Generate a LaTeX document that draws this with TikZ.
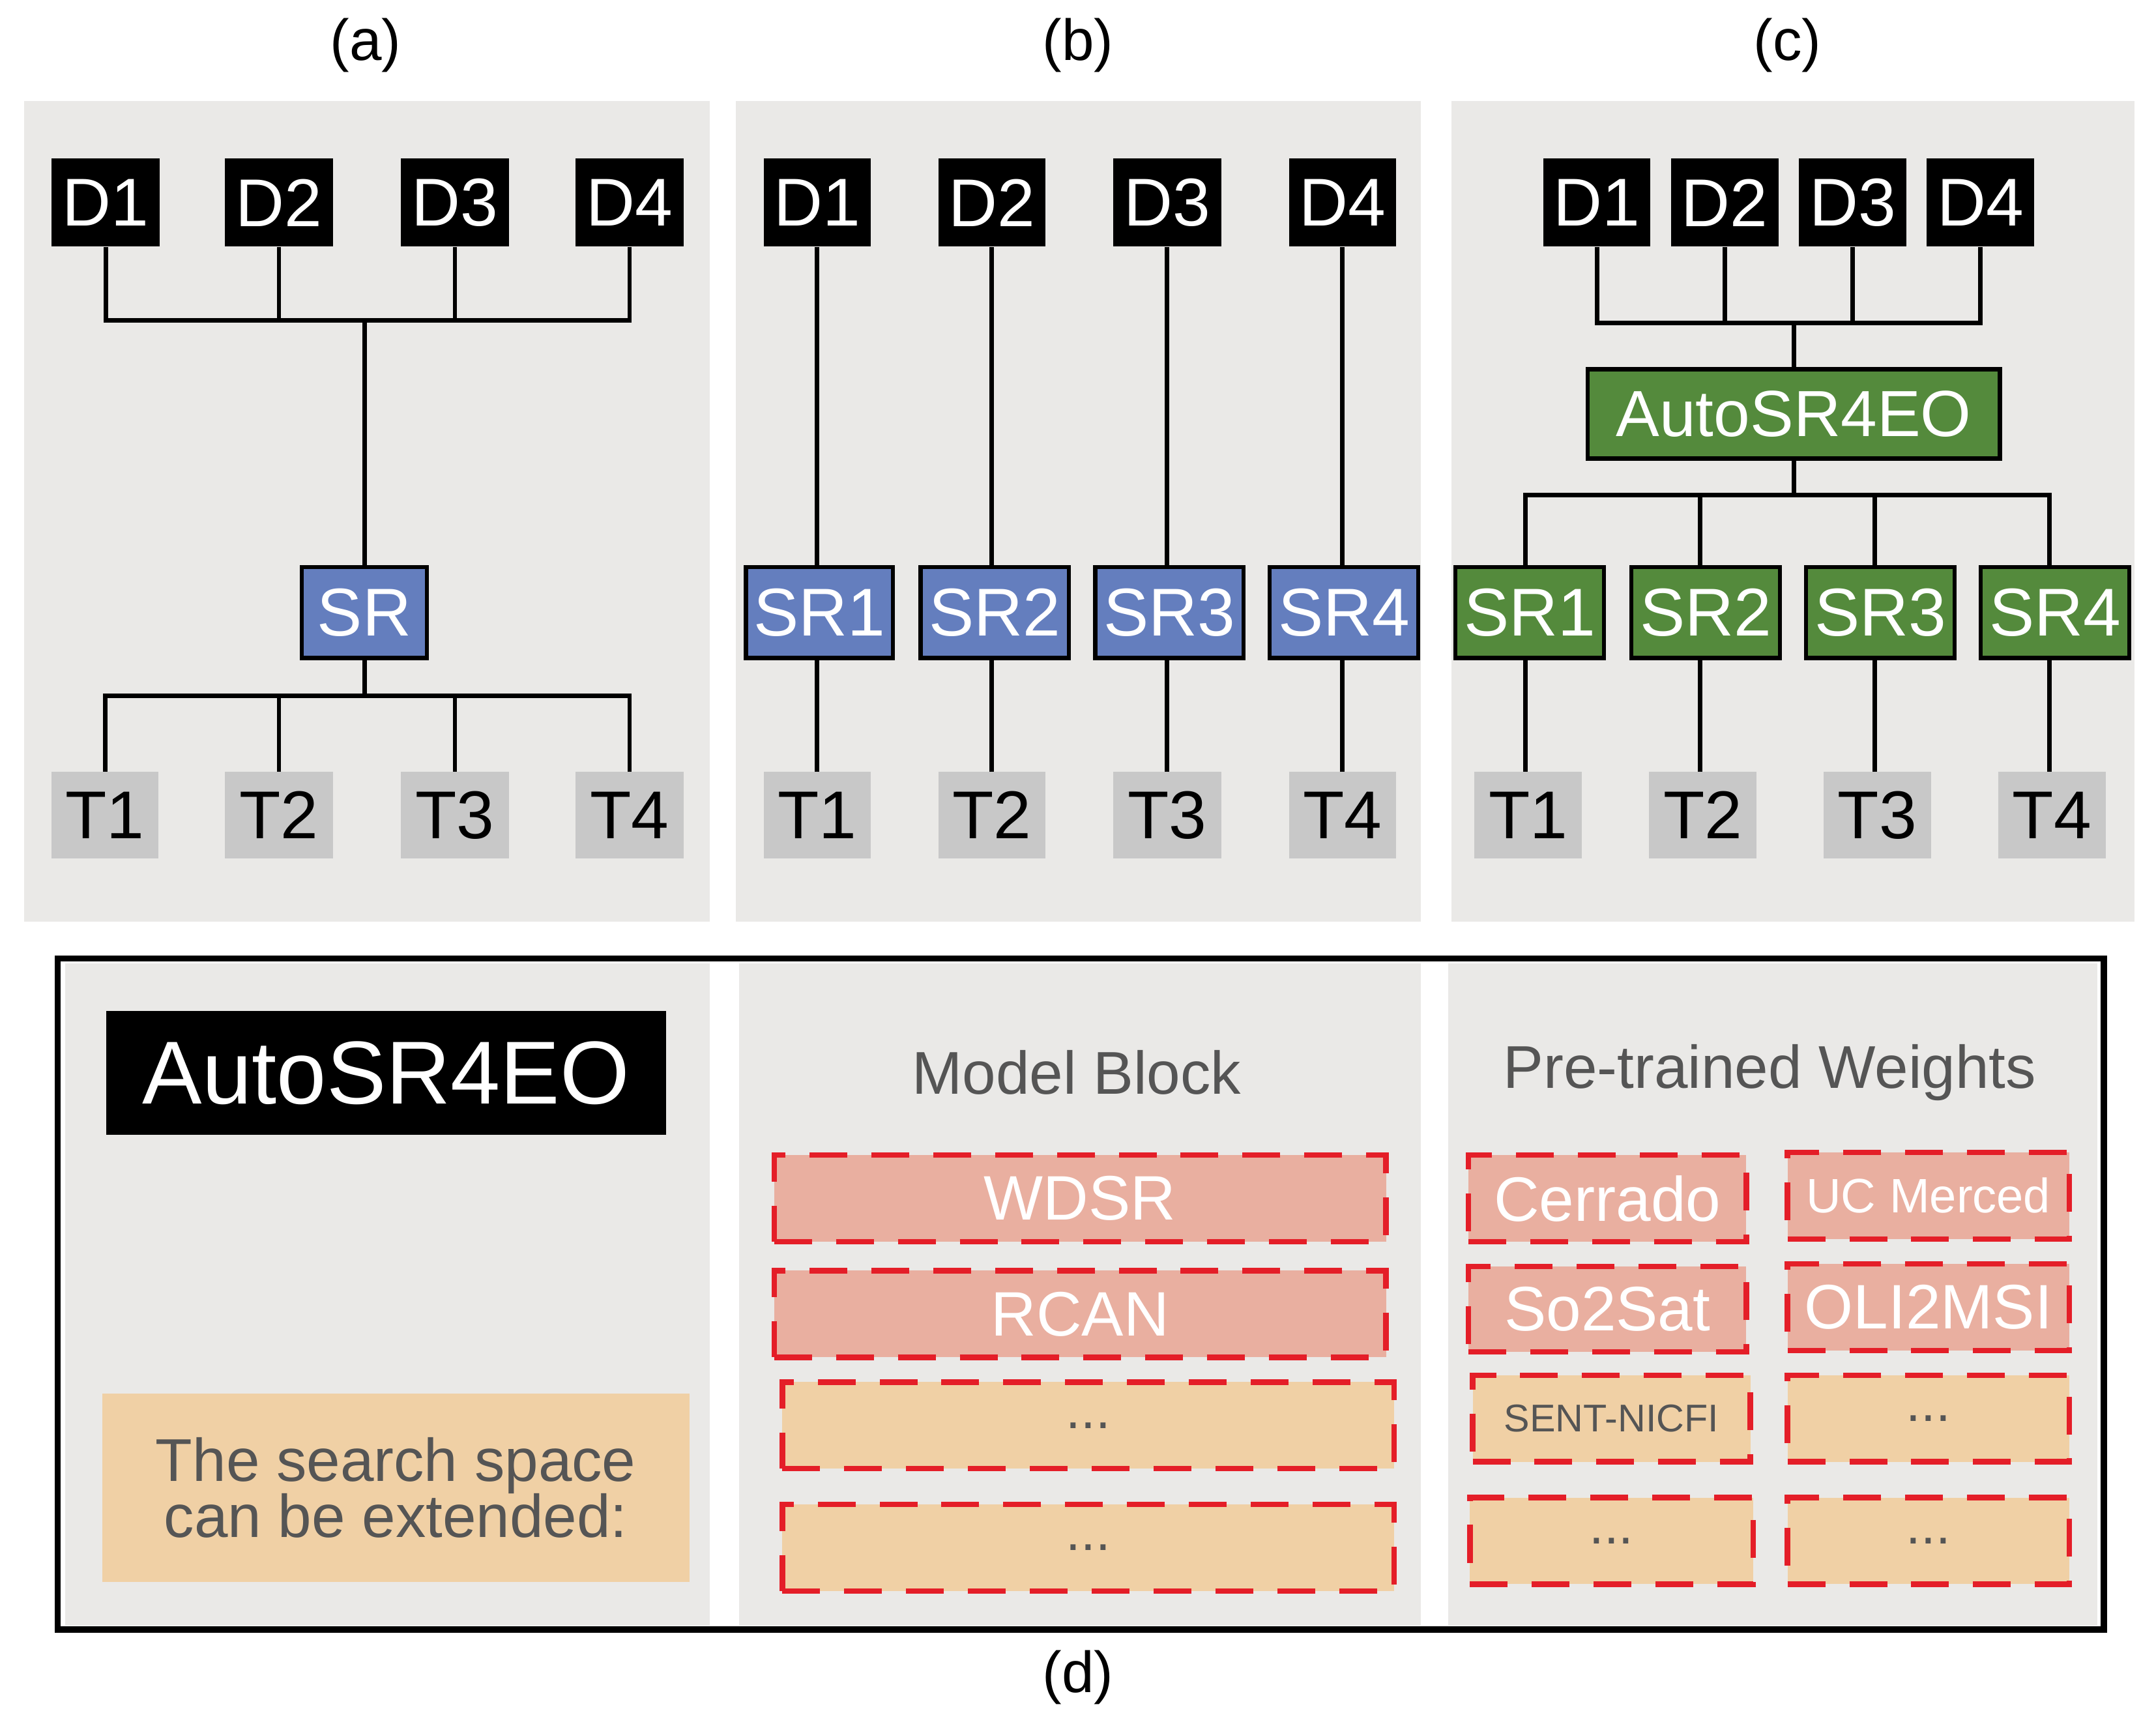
\documentclass[tikz,border=0pt]{standalone}
\usepackage{fontspec}
\setmainfont{Liberation Sans}
\definecolor{panel}{RGB}{234,233,231}
\definecolor{tgray}{RGB}{200,200,200}
\definecolor{srblue}{RGB}{100,126,190}
\definecolor{srgreen}{RGB}{84,138,60}
\definecolor{pinkf}{RGB}{233,175,160}
\definecolor{orangef}{RGB}{240,208,165}
\definecolor{dred}{RGB}{228,30,40}
\definecolor{tx}{RGB}{85,85,85}
\newcommand\bx[7]{\node[#1,anchor=north west,inner sep=0pt,minimum width={(#4-#2)*0.02cm},minimum height={(#5-#3)*0.02cm}] (#6) at (#2,#3) {#7};}
\tikzset{
 dbox/.style={fill=black,text=white,font=\fontsize{28}{28}\selectfont},
 tbox/.style={fill=tgray,text=black,font=\fontsize{28}{28}\selectfont},
 bsr/.style={fill=srblue,draw=black,line width=0.06cm,text=white,font=\fontsize{28}{28}\selectfont},
 gsr/.style={fill=srgreen,draw=black,line width=0.06cm,text=white,font=\fontsize{28}{28}\selectfont},
 pnl/.style={fill=panel},
 pk/.style={fill=pinkf,draw=dred,line width=0.08cm,dash pattern=on 0.55cm off 0.35cm,text=white,font=\fontsize{26}{26}\selectfont},
 og/.style={fill=orangef,draw=dred,line width=0.08cm,dash pattern=on 0.55cm off 0.35cm,text=tx,font=\fontsize{22}{22}\selectfont},
 conn/.style={line width=0.065cm},
 lab/.style={font=\fontsize{24}{24}\selectfont},
}
\begin{document}
\begin{tikzpicture}[x=0.02cm,y=-0.02cm]
\useasboundingbox (0,0) rectangle (1568,1255);
\fill[white] (0,0) rectangle (1568,1255);
% panels
\bx{pnl}{17}{73}{516}{670}{pa}{}
\bx{pnl}{535}{73}{1033}{670}{pb}{}
\bx{pnl}{1055}{73}{1552}{670}{pc}{}
\node[lab] (la) at (266,33) {(a)};
\node[lab] (lb) at (784,33) {(b)};
\node[lab] (lc) at (1300,33) {(c)};
% (a)
\bx{dbox}{37}{115}{116}{179}{aD1}{D1}
\bx{dbox}{163}{115}{242}{179}{aD2}{D2}
\bx{dbox}{291}{115}{370}{179}{aD3}{D3}
\bx{dbox}{418}{115}{497}{179}{aD4}{D4}
\bx{bsr}{218}{411}{309}{477}{aSR}{SR}
\bx{tbox}{37}{561}{115}{624}{aT1}{T1}
\bx{tbox}{163}{561}{242}{624}{aT2}{T2}
\bx{tbox}{291}{561}{370}{624}{aT3}{T3}
\bx{tbox}{418}{561}{497}{624}{aT4}{T4}
\coordinate (aj) at (263,233);
\coordinate (ak) at (263,506);
\foreach \i in {1,...,4}{\draw[conn] (aD\i.south) |- (aSR.north |- aj); \draw[conn] (aSR.south |- ak) -| (aT\i.north);}
\draw[conn] (aSR.north |- aj) -- (aSR.north);
\draw[conn] (aSR.south) -- (aSR.south |- ak);
% (b)
\bx{dbox}{555}{115}{633}{179}{bD1}{D1}
\bx{dbox}{682}{115}{760}{179}{bD2}{D2}
\bx{dbox}{809}{115}{888}{179}{bD3}{D3}
\bx{dbox}{937}{115}{1015}{179}{bD4}{D4}
\bx{bsr}{541}{411}{648}{477}{bS1}{SR1}
\bx{bsr}{668}{411}{776}{477}{bS2}{SR2}
\bx{bsr}{795}{411}{903}{477}{bS3}{SR3}
\bx{bsr}{922}{411}{1030}{477}{bS4}{SR4}
\bx{tbox}{555}{561}{633}{624}{bT1}{T1}
\bx{tbox}{682}{561}{760}{624}{bT2}{T2}
\bx{tbox}{809}{561}{888}{624}{bT3}{T3}
\bx{tbox}{937}{561}{1015}{624}{bT4}{T4}
\foreach \i in {1,...,4}{\draw[conn] (bD\i.south) -- (bD\i.south |- bS\i.north); \draw[conn] (bT\i.north |- bS\i.south) -- (bT\i.north);}
% (c)
\bx{dbox}{1122}{115}{1200}{179}{cD1}{D1}
\bx{dbox}{1215}{115}{1293}{179}{cD2}{D2}
\bx{dbox}{1308}{115}{1386}{179}{cD3}{D3}
\bx{dbox}{1401}{115}{1479}{179}{cD4}{D4}
\bx{gsr,font=\fontsize{27}{27}\selectfont}{1153}{267}{1453}{332}{cA}{AutoSR4EO}
\bx{gsr}{1057}{411}{1165}{477}{cS1}{SR1}
\bx{gsr}{1185}{411}{1293}{477}{cS2}{SR2}
\bx{gsr}{1312}{411}{1420}{477}{cS3}{SR3}
\bx{gsr}{1439}{411}{1547}{477}{cS4}{SR4}
\bx{tbox}{1072}{561}{1150}{624}{cT1}{T1}
\bx{tbox}{1199}{561}{1277}{624}{cT2}{T2}
\bx{tbox}{1326}{561}{1404}{624}{cT3}{T3}
\bx{tbox}{1453}{561}{1531}{624}{cT4}{T4}
\coordinate (cj) at (1300,235);
\coordinate (ck) at (1300,360);
\foreach \i in {1,...,4}{\draw[conn] (cD\i.south) |- (cA.north |- cj); \draw[conn] (cA.south |- ck) -| ([xshift=-0.04cm]cT\i.north |- cS\i.north); \draw[conn] ([xshift=-0.04cm]cT\i.north |- cS\i.south) -- ([xshift=-0.04cm]cT\i.north);}
\draw[conn] (cA.north |- cj) -- (cA.north);
\draw[conn] (cA.south) -- (cA.south |- ck);
% (d)
\bx{pnl}{47}{700}{516}{1182}{pd1}{}
\bx{pnl}{537}{700}{1033}{1182}{pd2}{}
\bx{pnl}{1053}{700}{1525}{1182}{pd3}{}
\draw[line width=0.09cm] (42,697) rectangle (1530,1185);
\bx{fill=black,text=white,font=\fontsize{37}{37}\selectfont}{77}{735}{484}{825}{dA}{AutoSR4EO}
\bx{fill=orangef,text=tx,font=\fontsize{25}{25}\selectfont,align=center}{74}{1013}{501}{1150}{dS}{The search space\\[-2pt]can be extended:}
\node[text=tx,font=\fontsize{25}{25}\selectfont] (mb) at (783,780) {Model Block};
\node[text=tx,font=\fontsize{25}{25}\selectfont] (pw) at (1287,780) {Pre-trained Weights};
\bx{pk}{561}{838}{1006}{901}{m1}{WDSR}
\bx{pk}{561}{922}{1006}{985}{m2}{RCAN}
\bx{og}{567}{1003}{1012}{1066}{m3}{...}
\bx{og}{567}{1092}{1012}{1155}{m4}{...}
\bx{pk}{1066}{838}{1268}{901}{w1}{Cerrado}
\bx{pk,font=\fontsize{20}{20}\selectfont}{1298}{836}{1503}{899}{w2}{UC Merced}
\bx{pk}{1066}{919}{1268}{981}{w3}{So2Sat}
\bx{pk}{1298}{917}{1503}{980}{w4}{OLI2MSI}
\bx{og,font=\fontsize{16}{16}\selectfont}{1069}{998}{1271}{1061}{w5}{SENT-NICFI}
\bx{og}{1298}{998}{1503}{1061}{w6}{...}
\bx{og}{1067}{1087}{1273}{1150}{w7}{...}
\bx{og}{1298}{1087}{1503}{1150}{w8}{...}
\node[lab] (ld) at (784,1220) {(d)};
\end{tikzpicture}
\end{document}
